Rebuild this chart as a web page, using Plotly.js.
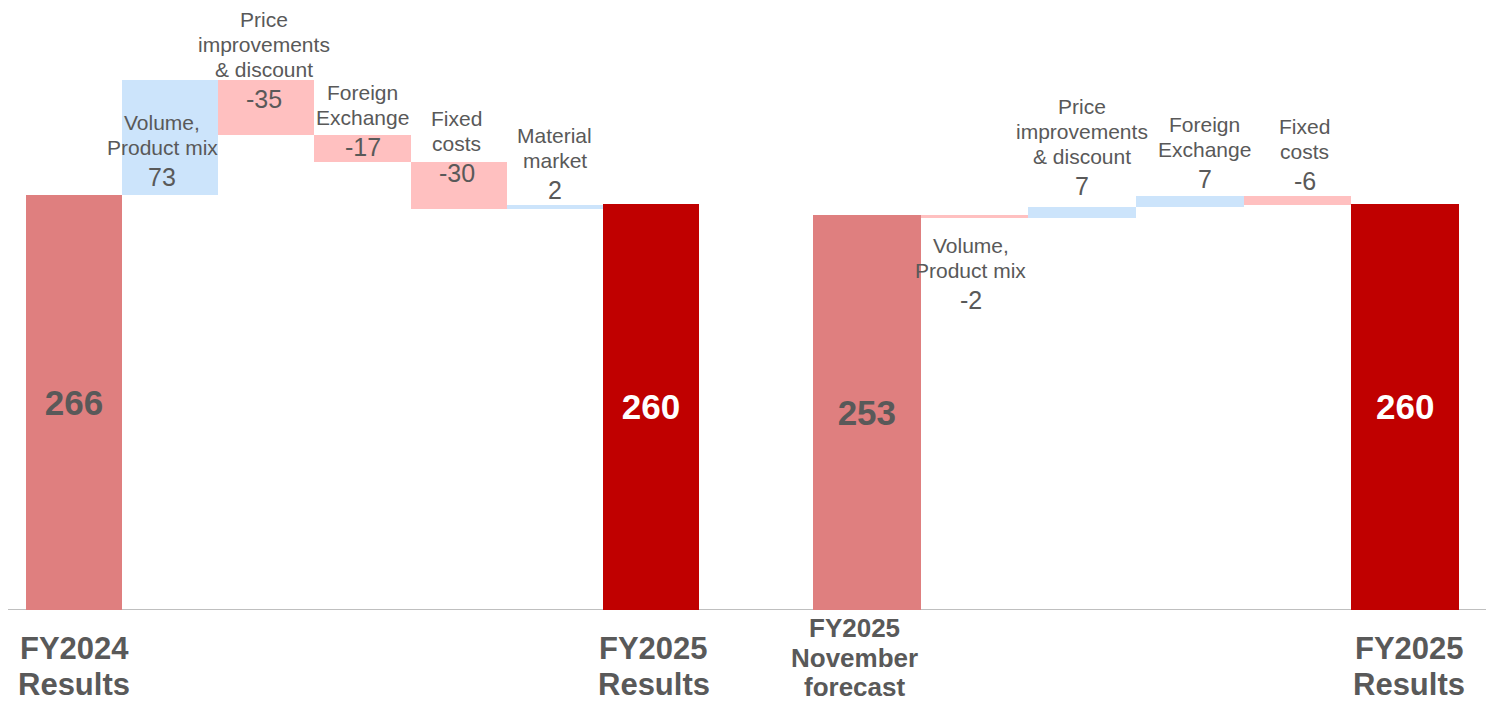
<!DOCTYPE html>
<html>
<head>
<meta charset="utf-8">
<script src="https://cdn.plot.ly/plotly-3.0.1.min.js"></script>
<style>
  html, body { margin: 0; padding: 0; background: #ffffff; }
  #chart { width: 1486px; height: 701px; }
</style>
</head>
<body>
<div id="chart"></div>
<script>
// Bridge 1: FY2024 results to FY2025 results
const leftStartLabel = "FY2024\nResults";
const leftStartValue = 266;
const leftDriverNames = ["Volume,\nProduct mix", "Price\nimprovements\n& discount", "Foreign\nExchange", "Fixed\ncosts", "Material\nmarket"];
const leftDriverValues = [73, -35, -17, -30, 2];
const leftEndLabel = "FY2025\nResults";
const leftEndValue = 260;

// Bridge 2: FY2025 November forecast to FY2025 results
const rightStartLabel = "FY2025\nNovember\nforecast";
const rightStartValue = 253;
const rightDriverNames = ["Volume,\nProduct mix", "Price\nimprovements\n& discount", "Foreign\nExchange", "Fixed\ncosts"];
const rightDriverValues = [-2, 7, 7, -6];
const rightEndLabel = "FY2025\nResults";
const rightEndValue = 260;

// ---- styling ----
const FONT = "Liberation Sans, Arial, Helvetica, sans-serif";
const TEXT = "#595959";
const COLORS = { start: "#DF7F7F", end: "#C00000", up: "#CCE4FB", down: "#FFC0C0" };
const W = 1486, H = 701, PLOT_H = 610;
const PX_PER_UNIT = 1.562;

// label placement for the driver annotations (pixels, relative to the top of each bar)
const leftLabelDx = [-8, -2, 0, -2, 0];
const leftLabelDy = [-105, -27, -21, -20, 7];
const rightLabelDx = [-4, 0, 15, 7];
const rightLabelDy = [-94, 12, 8, 6];

// category captions under the axis: [font size, line pitch, first line offset below axis, x shift]
const captionStyle = {
  leftStart: [31, 36, 38, 0],
  leftEnd: [31, 36, 38, 3],
  rightStart: [26, 29.5, 18, -12],
  rightEnd: [31, 36, 38, 4]
};

const annotations = [];

function catKey(s) { return s.replace(/\n/g, " "); }

function caption(axis, label, style) {
  const [size, pitch, first, dx] = style;
  label.split("\n").forEach((line, k) => {
    annotations.push({
      xref: axis, yref: "y", x: catKey(label), y: 0,
      text: "<b>" + line + "</b>", showarrow: false,
      xanchor: "center", yanchor: "middle", borderpad: 0,
      xshift: dx, yshift: -(first + k * pitch),
      font: { family: FONT, size: size, color: TEXT }
    });
  });
}

function bridge(axis, startLabel, startValue, names, deltas, endLabel, endValue, dxs, dys, capStart, capEnd) {
  const cats = [catKey(startLabel)].concat(names.map(catKey), [catKey(endLabel)]);
  const bases = [];
  let run = startValue;
  deltas.forEach(d => { bases.push(run); run += d; });

  const totals = {
    type: "bar", xaxis: axis, yaxis: "y",
    x: [cats[0], cats[cats.length - 1]],
    y: [startValue, endValue], base: [0, 0], width: 1,
    marker: { color: [COLORS.start, COLORS.end], line: { width: 0 } },
    text: [String(startValue), String(endValue)],
    textposition: "inside", insidetextanchor: "middle",
    textfont: { family: FONT, size: 35, weight: "bold", color: [TEXT, "#ffffff"] },
    hoverinfo: "skip", cliponaxis: false
  };
  const drivers = {
    type: "bar", xaxis: axis, yaxis: "y",
    x: cats.slice(1, -1), y: deltas, base: bases, width: 1,
    marker: { color: deltas.map(d => d >= 0 ? COLORS.up : COLORS.down), line: { width: 0 } },
    hoverinfo: "skip"
  };

  // driver labels: name lines stacked above the value
  names.forEach((name, i) => {
    const top = Math.max(bases[i], bases[i] + deltas[i]);
    const valueCenter = dys[i] + 8.75;
    annotations.push({
      xref: axis, yref: "y", x: cats[i + 1], y: top,
      text: String(deltas[i]), showarrow: false,
      xanchor: "center", yanchor: "middle",
      xshift: dxs[i], yshift: valueCenter,
      font: { family: FONT, size: 25, color: TEXT }
    });
    const lines = name.split("\n");
    lines.forEach((line, j) => {
      const k = lines.length - 1 - j; // 0 = line nearest the value
      annotations.push({
        xref: axis, yref: "y", x: cats[i + 1], y: top,
        text: line, showarrow: false,
        xanchor: "center", yanchor: "middle",
        xshift: dxs[i], yshift: dys[i] + 31 + 25 * k + 7.35,
        font: { family: FONT, size: 21, color: TEXT }
      });
    });
  });

  caption(axis, startLabel, capStart);
  caption(axis, endLabel, capEnd);
  return { traces: [totals, drivers], cats: cats };
}

const left = bridge("x", leftStartLabel, leftStartValue, leftDriverNames, leftDriverValues,
  leftEndLabel, leftEndValue, leftLabelDx, leftLabelDy, captionStyle.leftStart, captionStyle.leftEnd);
const right = bridge("x2", rightStartLabel, rightStartValue, rightDriverNames, rightDriverValues,
  rightEndLabel, rightEndValue, rightLabelDx, rightLabelDy, captionStyle.rightStart, captionStyle.rightEnd);

const hiddenX = {
  type: "category", categoryorder: "array",
  showticklabels: false, showline: false, showgrid: false, zeroline: false,
  ticks: "", fixedrange: true, anchor: "y"
};

const layout = {
  width: W, height: H,
  margin: { l: 0, r: 0, t: 0, b: H - PLOT_H, pad: 0 },
  paper_bgcolor: "#ffffff", plot_bgcolor: "#ffffff",
  showlegend: false, barmode: "overlay", bargap: 0,
  xaxis: Object.assign({}, hiddenX, {
    domain: [26 / W, 699 / W], range: [-0.5, left.cats.length - 0.5], categoryarray: left.cats
  }),
  xaxis2: Object.assign({}, hiddenX, {
    domain: [813 / W, 1459 / W], range: [-0.5, right.cats.length - 0.5], categoryarray: right.cats
  }),
  yaxis: {
    range: [0, PLOT_H / PX_PER_UNIT], visible: false, showgrid: false, zeroline: false, fixedrange: true
  },
  shapes: [{
    type: "line", xref: "paper", yref: "y", x0: 8 / W, x1: 1, y0: 0, y1: 0,
    line: { color: "#BFBFBF", width: 2 }, layer: "below"
  }],
  annotations: annotations
};

Plotly.newPlot("chart", left.traces.concat(right.traces), layout, { staticPlot: true, displayModeBar: false });
</script>
</body>
</html>
